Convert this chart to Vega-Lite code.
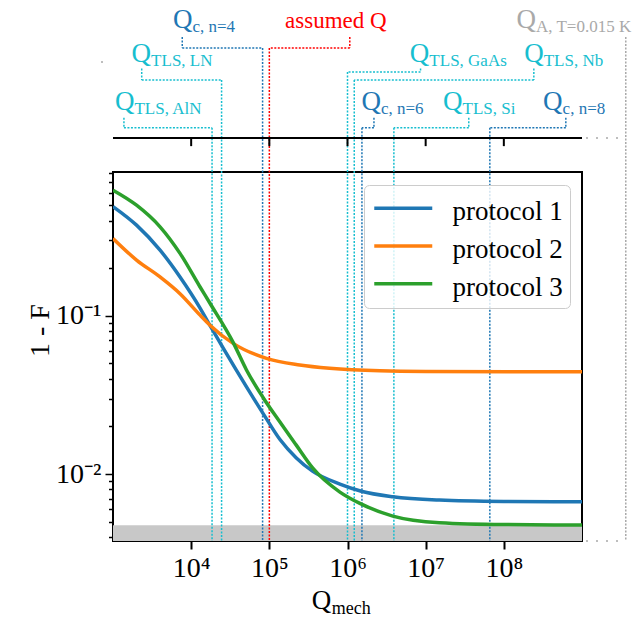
{
  "$schema": "https://vega.github.io/schema/vega-lite/v6.json",
  "width": 469,
  "height": 369,
  "autosize": {"type": "none"},
  "padding": {"left": 113, "top": 172, "right": 51, "bottom": 88},
  "background": "white",
  "config": {
    "font": "Liberation Serif",
    "view": {"stroke": "black", "strokeWidth": 2},
    "text": {"font": "Liberation Serif"}
  },
  "datasets": {
    "curves": [
      {"protocol": "protocol 1", "Q": 1000, "v": 0.49},
      {"protocol": "protocol 1", "Q": 2000, "v": 0.374},
      {"protocol": "protocol 1", "Q": 4000, "v": 0.26},
      {"protocol": "protocol 1", "Q": 7200, "v": 0.176},
      {"protocol": "protocol 1", "Q": 13000, "v": 0.112},
      {"protocol": "protocol 1", "Q": 17400, "v": 0.087},
      {"protocol": "protocol 1", "Q": 38000, "v": 0.0452},
      {"protocol": "protocol 1", "Q": 83000, "v": 0.0242},
      {"protocol": "protocol 1", "Q": 136000, "v": 0.0166},
      {"protocol": "protocol 1", "Q": 220000, "v": 0.0127},
      {"protocol": "protocol 1", "Q": 360000, "v": 0.0104},
      {"protocol": "protocol 1", "Q": 800000, "v": 0.00865},
      {"protocol": "protocol 1", "Q": 1500000, "v": 0.0078},
      {"protocol": "protocol 1", "Q": 3800000, "v": 0.0072},
      {"protocol": "protocol 1", "Q": 15000000, "v": 0.00686},
      {"protocol": "protocol 1", "Q": 100000000, "v": 0.00672},
      {"protocol": "protocol 1", "Q": 1000000000, "v": 0.00668},
      {"protocol": "protocol 2", "Q": 1000, "v": 0.308},
      {"protocol": "protocol 2", "Q": 2000, "v": 0.225},
      {"protocol": "protocol 2", "Q": 4000, "v": 0.176},
      {"protocol": "protocol 2", "Q": 7200, "v": 0.138},
      {"protocol": "protocol 2", "Q": 13000, "v": 0.101},
      {"protocol": "protocol 2", "Q": 17400, "v": 0.0873},
      {"protocol": "protocol 2", "Q": 34400, "v": 0.067},
      {"protocol": "protocol 2", "Q": 92000, "v": 0.0538},
      {"protocol": "protocol 2", "Q": 245000, "v": 0.0489},
      {"protocol": "protocol 2", "Q": 590000, "v": 0.0466},
      {"protocol": "protocol 2", "Q": 2600000, "v": 0.0449},
      {"protocol": "protocol 2", "Q": 10000000, "v": 0.0445},
      {"protocol": "protocol 2", "Q": 1000000000, "v": 0.0443},
      {"protocol": "protocol 3", "Q": 1000, "v": 0.622},
      {"protocol": "protocol 3", "Q": 2000, "v": 0.5},
      {"protocol": "protocol 3", "Q": 4000, "v": 0.365},
      {"protocol": "protocol 3", "Q": 7200, "v": 0.248},
      {"protocol": "protocol 3", "Q": 13000, "v": 0.152},
      {"protocol": "protocol 3", "Q": 17400, "v": 0.12},
      {"protocol": "protocol 3", "Q": 34400, "v": 0.068},
      {"protocol": "protocol 3", "Q": 51000, "v": 0.0455},
      {"protocol": "protocol 3", "Q": 83000, "v": 0.0305},
      {"protocol": "protocol 3", "Q": 136000, "v": 0.0214},
      {"protocol": "protocol 3", "Q": 220000, "v": 0.0153},
      {"protocol": "protocol 3", "Q": 360000, "v": 0.0109},
      {"protocol": "protocol 3", "Q": 800000, "v": 0.0077},
      {"protocol": "protocol 3", "Q": 1440000, "v": 0.00653},
      {"protocol": "protocol 3", "Q": 3800000, "v": 0.00543},
      {"protocol": "protocol 3", "Q": 15000000, "v": 0.00493},
      {"protocol": "protocol 3", "Q": 100000000, "v": 0.0048},
      {"protocol": "protocol 3", "Q": 1000000000, "v": 0.00477}
    ],
    "segs": [
      {"kind": "Qc", "Q": 7690, "v": 5.77, "Q2": 7690, "v2": 4.92},
      {"kind": "Qc", "Q": 7690, "v": 4.92, "Q2": 82000, "v2": 4.92},
      {"kind": "Qc", "Q": 82000, "v": 4.92, "Q2": 82000, "v2": 0.00378},
      {"kind": "assumed", "Q": 1070000, "v": 5.77, "Q2": 1070000, "v2": 4.92},
      {"kind": "assumed", "Q": 1070000, "v": 4.92, "Q2": 100000, "v2": 4.92},
      {"kind": "assumed", "Q": 100000, "v": 4.92, "Q2": 100000, "v2": 0.00378},
      {"kind": "TLS", "Q": 2330, "v": 3.65, "Q2": 2330, "v2": 3.09},
      {"kind": "TLS", "Q": 2330, "v": 3.09, "Q2": 24500, "v2": 3.09},
      {"kind": "TLS", "Q": 24500, "v": 3.09, "Q2": 24500, "v2": 0.00378},
      {"kind": "TLS", "Q": 1380, "v": 1.78, "Q2": 1380, "v2": 1.54},
      {"kind": "TLS", "Q": 1380, "v": 1.54, "Q2": 18500, "v2": 1.54},
      {"kind": "TLS", "Q": 18500, "v": 1.54, "Q2": 18500, "v2": 0.00378},
      {"kind": "TLS", "Q": 8600000, "v": 3.65, "Q2": 8600000, "v2": 3.47},
      {"kind": "TLS", "Q": 8600000, "v": 3.47, "Q2": 1000000, "v2": 3.47},
      {"kind": "TLS", "Q": 1000000, "v": 3.47, "Q2": 1000000, "v2": 0.00378},
      {"kind": "TLS", "Q": 242000000, "v": 3.65, "Q2": 242000000, "v2": 3.09},
      {"kind": "TLS", "Q": 242000000, "v": 3.09, "Q2": 1220000, "v2": 3.09},
      {"kind": "TLS", "Q": 1220000, "v": 3.09, "Q2": 1220000, "v2": 0.00378},
      {"kind": "Qc", "Q": 2180000, "v": 1.78, "Q2": 2180000, "v2": 1.54},
      {"kind": "Qc", "Q": 2180000, "v": 1.54, "Q2": 1530000, "v2": 1.54},
      {"kind": "Qc", "Q": 1530000, "v": 1.54, "Q2": 1530000, "v2": 0.00378},
      {"kind": "TLS", "Q": 35600000, "v": 1.78, "Q2": 35600000, "v2": 1.54},
      {"kind": "TLS", "Q": 35600000, "v": 1.54, "Q2": 3920000, "v2": 1.54},
      {"kind": "TLS", "Q": 3920000, "v": 1.54, "Q2": 3920000, "v2": 0.00378},
      {"kind": "Qc", "Q": 621000000, "v": 1.78, "Q2": 621000000, "v2": 1.54},
      {"kind": "Qc", "Q": 621000000, "v": 1.54, "Q2": 66200000, "v2": 1.54},
      {"kind": "Qc", "Q": 66200000, "v": 1.54, "Q2": 66200000, "v2": 0.00378},
      {"kind": "QA", "Q": 3630000000, "v": 5.77, "Q2": 3630000000, "v2": 0.00378}
    ],
    "guides": [
      {"Q": 1000000000, "v": 1.33, "Q2": 3630000000, "v2": 1.33},
      {"Q": 1000000000, "v": 0.00378, "Q2": 3630000000, "v2": 0.00378}
    ],
    "topaxis": [
      {"Q": 1000, "v": 1.33, "Q2": 1000000000, "v2": 1.33},
      {"Q": 10000, "v": 1.33, "Q2": 10000, "v2": 1.18},
      {"Q": 100000, "v": 1.33, "Q2": 100000, "v2": 1.18},
      {"Q": 1000000, "v": 1.33, "Q2": 1000000, "v2": 1.18},
      {"Q": 10000000, "v": 1.33, "Q2": 10000000, "v2": 1.18},
      {"Q": 100000000, "v": 1.33, "Q2": 100000000, "v2": 1.18}
    ],
    "labels": [
      {"kind": "Qc", "Q": 5850, "v": 6.6, "main": "Q", "sub": "c, n=4"},
      {"kind": "assumed", "Q": 159000, "v": 6.6, "main": "assumed Q", "sub": ""},
      {"kind": "TLS", "Q": 1730, "v": 4.0, "main": "Q", "sub": "TLS, LN"},
      {"kind": "TLS", "Q": 1060, "v": 2.0, "main": "Q", "sub": "TLS, AlN"},
      {"kind": "TLS", "Q": 6280000, "v": 4.0, "main": "Q", "sub": "TLS, GaAs"},
      {"kind": "TLS", "Q": 182000000, "v": 4.0, "main": "Q", "sub": "TLS, Nb"},
      {"kind": "Qc", "Q": 1510000, "v": 2.0, "main": "Q", "sub": "c, n=6"},
      {"kind": "TLS", "Q": 16700000, "v": 2.0, "main": "Q", "sub": "TLS, Si"},
      {"kind": "Qc", "Q": 318000000, "v": 2.0, "main": "Q", "sub": "c, n=8"},
      {"kind": "QA", "Q": 145000000, "v": 6.6, "main": "Q", "sub": "A, T=0.015 K"}
    ],
    "xtitle": [{"Q": 350000, "v": 0.001406, "main": "Q", "sub": "mech"}],
    "dot": [{"Q": 723, "v": 4.01}]
  },
  "encoding": {
    "x": {
      "field": "Q",
      "type": "quantitative",
      "scale": {"type": "log", "domain": [1000, 1000000000], "nice": false},
      "axis": {
        "title": null,
        "grid": false,
        "domain": false,
        "values": [10000, 100000, 1000000, 10000000, 100000000],
        "labelExpr": "datum.value == 10000 ? '10⁴' : datum.value == 100000 ? '10⁵' : datum.value == 1000000 ? '10⁶' : datum.value == 10000000 ? '10⁷' : '10⁸'",
        "tickSize": 8,
        "tickWidth": 2,
        "tickColor": "black",
        "labelFont": "Liberation Serif",
        "labelFontSize": 28,
        "labelColor": "black",
        "labelPadding": 5,
        "labelFlush": false,
        "labelOverlap": false
      }
    },
    "y": {
      "field": "v",
      "type": "quantitative",
      "scale": {"type": "log", "domain": [0.00378, 0.81], "nice": false},
      "axis": {
        "title": "1 - F",
        "titleFont": "Liberation Serif",
        "titleFontSize": 28,
        "titleFontWeight": "normal",
        "titleColor": "black",
        "titleX": -73,
        "titleY": 158,
        "titleAlign": "center",
        "titleBaseline": "middle",
        "titleAngle": -90,
        "grid": false,
        "domain": false,
        "values": [0.004, 0.005, 0.006, 0.007, 0.008, 0.009, 0.01, 0.02, 0.03, 0.04, 0.05, 0.06, 0.07, 0.08, 0.09, 0.1, 0.2, 0.3, 0.4, 0.5, 0.6, 0.7, 0.8],
        "labelExpr": "datum.value == 0.1 ? '10⁻¹' : (datum.value == 0.01 ? '10⁻²' : '')",
        "tickSize": {"condition": {"test": "datum.value == 0.1 || datum.value == 0.01", "value": 8}, "value": 4.5},
        "tickWidth": 1.5,
        "tickColor": "black",
        "labelFont": "Liberation Serif",
        "labelFontSize": 28,
        "labelColor": "black",
        "labelPadding": 4,
        "labelOverlap": false,
        "labelBound": false
      }
    }
  },
  "resolve": {"scale": {"color": "independent"}},
  "layer": [
    {
      "data": {"values": [{"Q": 1000, "Q2": 1000000000, "v": 0.00378, "v2": 0.00476}]},
      "mark": {"type": "rect", "color": "#c8c8c8"},
      "encoding": {"x2": {"field": "Q2"}, "y2": {"field": "v2"}}
    },
    {
      "data": {"name": "segs"},
      "mark": {"type": "rule", "strokeDash": [2, 1.5], "strokeWidth": 1.5},
      "encoding": {
        "x2": {"field": "Q2"},
        "y2": {"field": "v2"},
        "color": {"field": "kind", "type": "nominal", "scale": {"domain": ["Qc", "TLS", "assumed", "QA"], "range": ["#1f77b4", "#17becf", "#ff0000", "#a9a9a9"]}, "legend": null}
      }
    },
    {
      "data": {"name": "guides"},
      "mark": {"type": "rule", "strokeDash": [2, 8], "strokeDashOffset": -4, "strokeWidth": 1.5, "color": "#a9a9a9"},
      "encoding": {"x2": {"field": "Q2"}, "y2": {"field": "v2"}}
    },
    {
      "data": {"name": "topaxis"},
      "mark": {"type": "rule", "strokeWidth": 2, "color": "black"},
      "encoding": {"x2": {"field": "Q2"}, "y2": {"field": "v2"}}
    },
    {
      "data": {"name": "dot"},
      "mark": {"type": "circle", "size": 4, "color": "#a9a9a9", "opacity": 1},
      "encoding": {}
    },
    {
      "data": {"name": "labels"},
      "mark": {"type": "text", "align": "left", "baseline": "alphabetic", "font": "Liberation Serif"},
      "encoding": {
        "text": {"field": "main"},
        "size": {"condition": {"test": "datum.kind == 'assumed'", "value": 23}, "value": 27},
        "color": {"field": "kind", "type": "nominal", "scale": {"domain": ["Qc", "TLS", "assumed", "QA"], "range": ["#1f77b4", "#17becf", "#ff0000", "#a9a9a9"]}, "legend": null}
      }
    },
    {
      "data": {"name": "labels"},
      "mark": {"type": "text", "align": "left", "baseline": "alphabetic", "font": "Liberation Serif", "fontSize": 17, "dx": 19.5, "dy": 4},
      "encoding": {
        "text": {"field": "sub"},
        "color": {"field": "kind", "type": "nominal", "scale": {"domain": ["Qc", "TLS", "assumed", "QA"], "range": ["#1f77b4", "#17becf", "#ff0000", "#a9a9a9"]}, "legend": null}
      }
    },
    {
      "data": {"name": "xtitle"},
      "mark": {"type": "text", "align": "left", "baseline": "alphabetic", "font": "Liberation Serif", "fontSize": 27, "color": "black"},
      "encoding": {"text": {"field": "main"}}
    },
    {
      "data": {"name": "xtitle"},
      "mark": {"type": "text", "align": "left", "baseline": "alphabetic", "font": "Liberation Serif", "fontSize": 18, "dx": 20, "dy": 5, "color": "black"},
      "encoding": {"text": {"field": "sub"}}
    },
    {
      "data": {"name": "curves"},
      "mark": {"type": "line", "strokeWidth": 3.5, "interpolate": "monotone", "clip": true},
      "encoding": {
        "color": {
          "field": "protocol",
          "type": "nominal",
          "scale": {"range": ["#1f77b4", "#ff7f0e", "#2ca02c"]},
          "legend": {
            "orient": "none",
            "legendX": 251,
            "legendY": 13,
            "title": null,
            "symbolType": "M-0.9,-0.2H2.2",
            "symbolSize": 1400,
            "symbolStrokeWidth": 3.5,
            "labelFont": "Liberation Serif",
            "labelFontSize": 27,
            "labelColor": "black",
            "labelOffset": 41,
            "labelLimit": 300,
            "padding": 6.6,
            "rowPadding": 3.7,
            "strokeColor": "#cccccc",
            "fillColor": "rgba(255,255,255,0.8)",
            "cornerRadius": 5
          }
        }
      }
    }
  ]
}
